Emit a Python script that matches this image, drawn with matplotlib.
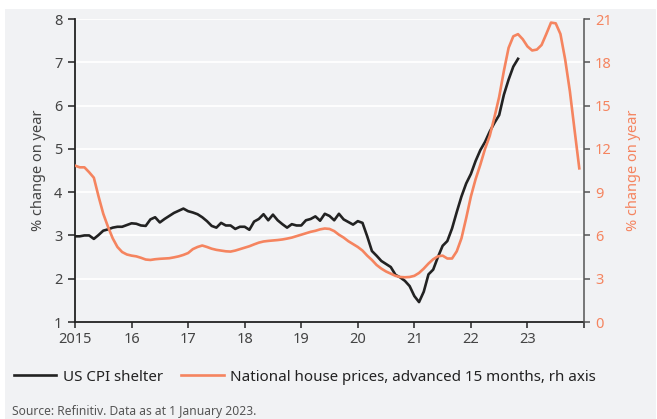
import numpy as np
import matplotlib
matplotlib.use("Agg")
import matplotlib.pyplot as plt
from matplotlib.patches import Rectangle

plt.rcParams['font.family'] = ['Noto Sans', 'DejaVu Sans']

# monthly series, first point = Jan 2015
start_year = 2015

# US CPI shelter, % y/y (left axis), Jan 2015 - Nov 2022
cpi_shelter = [
    2.98, 2.98, 3.00, 3.00, 2.92, 3.01, 3.11, 3.14, 3.18, 3.20, 3.20, 3.24,
    3.28, 3.27, 3.23, 3.22, 3.37, 3.42, 3.30, 3.38, 3.45, 3.52, 3.57, 3.62,
    3.56, 3.53, 3.49, 3.42, 3.33, 3.22, 3.18, 3.29, 3.23, 3.23, 3.15, 3.20,
    3.20, 3.13, 3.32, 3.38, 3.49, 3.35, 3.48, 3.35, 3.26, 3.18, 3.26, 3.23,
    3.23, 3.35, 3.38, 3.44, 3.34, 3.50, 3.45, 3.35, 3.50, 3.37, 3.31, 3.25,
    3.33, 3.29, 2.98, 2.64, 2.53, 2.41, 2.34, 2.27, 2.09, 2.03, 1.95, 1.83,
    1.60, 1.46, 1.70, 2.10, 2.21, 2.50, 2.76, 2.87, 3.16, 3.54, 3.90, 4.20,
    4.42, 4.72, 4.97, 5.16, 5.40, 5.60, 5.78, 6.25, 6.60, 6.90, 7.08,
]

# National house prices, % y/y, advanced 15 months (right axis), Jan 2015 - Dec 2023
house_prices = [
    10.84, 10.72, 10.72, 10.38, 10.00, 8.70, 7.50, 6.60, 5.80, 5.20, 4.85, 4.68,
    4.60, 4.55, 4.45, 4.33, 4.30, 4.35, 4.38, 4.40, 4.42, 4.48, 4.55, 4.65,
    4.78, 5.05, 5.20, 5.30, 5.20, 5.08, 5.00, 4.95, 4.90, 4.88, 4.95, 5.05,
    5.15, 5.25, 5.38, 5.50, 5.58, 5.62, 5.65, 5.68, 5.72, 5.78, 5.85, 5.95,
    6.05, 6.15, 6.25, 6.32, 6.42, 6.48, 6.45, 6.30, 6.05, 5.85, 5.60, 5.40,
    5.20, 4.95, 4.60, 4.30, 3.95, 3.70, 3.50, 3.35, 3.20, 3.12, 3.10, 3.12,
    3.20, 3.40, 3.70, 4.05, 4.35, 4.55, 4.60, 4.40, 4.40, 4.90, 5.80, 7.20,
    8.70, 9.90, 10.90, 12.00, 12.90, 14.20, 15.60, 17.40, 19.00, 19.80, 19.95, 19.60,
    19.10, 18.82, 18.88, 19.20, 19.96, 20.75, 20.70, 19.96, 18.20, 16.00, 13.30, 10.65,
]

year_ticks = list(range(2015, 2025))
year_labels = ['2015', '16', '17', '18', '19', '20', '21', '22', '23', '']
left_ticks = [1, 2, 3, 4, 5, 6, 7, 8]
right_ticks = [0, 3, 6, 9, 12, 15, 18, 21]

BG = '#f1f2f4'
BLACK = '#222222'
ORANGE = '#f5845f'
GREY_TXT = '#444444'

fig = plt.figure(figsize=(6.57, 4.19), dpi=100, facecolor='white')
fig.patches.append(Rectangle((5 / 657, 0), 651 / 657, 410 / 419,
                             transform=fig.transFigure, facecolor=BG,
                             edgecolor='none', zorder=-10))

ax = fig.add_axes([75 / 657, 1 - 322 / 419, 509 / 657, 303 / 419])
ax.set_facecolor(BG)
ax2 = ax.twinx()

x_cpi = start_year + np.arange(len(cpi_shelter)) / 12
x_hp = start_year + np.arange(len(house_prices)) / 12

l1, = ax.plot(x_cpi, cpi_shelter, color=BLACK, lw=1.9, zorder=3,
              label='US CPI shelter')
l2, = ax2.plot(x_hp, house_prices, color=ORANGE, lw=1.9, zorder=3,
               label='National house prices, advanced 15 months, rh axis')

ax.set_xlim(2015, 2024)
ax.set_ylim(1, 8)
ax2.set_ylim(0, 21)

ax.set_yticks(left_ticks)
ax2.set_yticks(right_ticks)
ax.set_xticks(year_ticks)
ax.set_xticklabels(year_labels)

# white horizontal gridlines
ax.yaxis.grid(True, color='white', lw=1.3)
ax.set_axisbelow(True)

for a in (ax, ax2):
    a.spines['top'].set_visible(False)
ax.spines['right'].set_visible(False)
ax2.spines['left'].set_visible(False)
ax2.spines['bottom'].set_visible(False)
ax.spines['left'].set_color(BLACK)
ax.spines['bottom'].set_color(BLACK)
ax.spines['left'].set_linewidth(1.3)
ax.spines['bottom'].set_linewidth(1.3)
ax2.spines['right'].set_color('#555555')
ax2.spines['right'].set_linewidth(1.1)

ax.tick_params(axis='y', length=5, width=1.1, color=BLACK, pad=4,
               labelsize=10.5, labelcolor=GREY_TXT)
ax.tick_params(axis='x', length=4, width=1.1, color=BLACK, pad=3,
               labelsize=10.5, labelcolor=GREY_TXT)
ax2.tick_params(axis='y', length=4, width=1.1, color='#555555', pad=4,
                labelsize=10.5, labelcolor=ORANGE)

ax.set_ylabel('% change on year', fontsize=10.5, color=GREY_TXT, labelpad=6)
ax2.set_ylabel('% change on year', fontsize=10.5, color=ORANGE,
               rotation=90, labelpad=10)

fig.legend(handles=[l1, l2], loc='center left',
           bbox_to_anchor=(0 / 657, 1 - 377 / 419), ncol=2, frameon=False,
           fontsize=10.9, handlelength=2.8, handletextpad=0.45,
           columnspacing=1.2, labelcolor='#222222')

fig.text(12 / 657, 1 - 411 / 419, 'Source: Refinitiv. Data as at 1 January 2023.',
         fontsize=8.7, color='#555555', va='center', ha='left')

fig.savefig('out.png', dpi=100, facecolor=fig.get_facecolor())
